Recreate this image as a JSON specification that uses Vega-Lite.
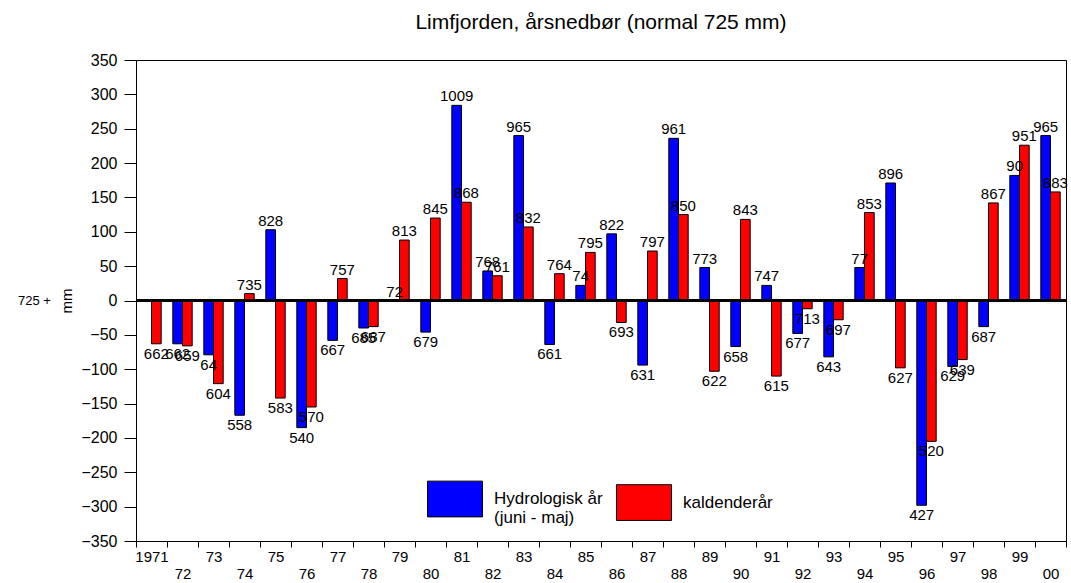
{
  "$schema": "https://vega.github.io/schema/vega-lite/v6.json",
  "width": 930,
  "height": 481,
  "autosize": "none",
  "padding": {"left": 136, "top": 60, "right": 5, "bottom": 42},
  "background": "white",
  "config": {
    "font": "Liberation Sans",
    "view": {"stroke": "black", "strokeWidth": 1},
    "axis": {"domainColor": "black", "tickColor": "black", "labelColor": "black", "titleColor": "black", "grid": false}
  },
  "title": {"text": "Limfjorden, årsnedbør (normal 725 mm)", "fontSize": 21, "fontWeight": "normal", "anchor": "middle", "offset": 19, "color": "black"},
  "data": {
    "values": [
      {"year": "1971", "serie": "kaldenderår", "v": -63, "label": "662"},
      {"year": "1972", "serie": "Hydrologisk år", "v": -63, "label": "662"},
      {"year": "1972", "serie": "kaldenderår", "v": -66, "label": "659"},
      {"year": "1973", "serie": "Hydrologisk år", "v": -79, "label": "64"},
      {"year": "1973", "serie": "kaldenderår", "v": -121, "label": "604"},
      {"year": "1974", "serie": "Hydrologisk år", "v": -167, "label": "558"},
      {"year": "1974", "serie": "kaldenderår", "v": 10, "label": "735"},
      {"year": "1975", "serie": "Hydrologisk år", "v": 103, "label": "828"},
      {"year": "1975", "serie": "kaldenderår", "v": -142, "label": "583"},
      {"year": "1976", "serie": "Hydrologisk år", "v": -185, "label": "540"},
      {"year": "1976", "serie": "kaldenderår", "v": -155, "label": "570"},
      {"year": "1977", "serie": "Hydrologisk år", "v": -58, "label": "667"},
      {"year": "1977", "serie": "kaldenderår", "v": 32, "label": "757"},
      {"year": "1978", "serie": "Hydrologisk år", "v": -40, "label": "685"},
      {"year": "1978", "serie": "kaldenderår", "v": -38, "label": "687"},
      {"year": "1979", "serie": "Hydrologisk år", "v": 0, "label": "72"},
      {"year": "1979", "serie": "kaldenderår", "v": 88, "label": "813"},
      {"year": "1980", "serie": "Hydrologisk år", "v": -46, "label": "679"},
      {"year": "1980", "serie": "kaldenderår", "v": 120, "label": "845"},
      {"year": "1981", "serie": "Hydrologisk år", "v": 284, "label": "1009"},
      {"year": "1981", "serie": "kaldenderår", "v": 143, "label": "868"},
      {"year": "1982", "serie": "Hydrologisk år", "v": 43, "label": "768"},
      {"year": "1982", "serie": "kaldenderår", "v": 36, "label": "761"},
      {"year": "1983", "serie": "Hydrologisk år", "v": 240, "label": "965"},
      {"year": "1983", "serie": "kaldenderår", "v": 107, "label": "832"},
      {"year": "1984", "serie": "Hydrologisk år", "v": -64, "label": "661"},
      {"year": "1984", "serie": "kaldenderår", "v": 39, "label": "764"},
      {"year": "1985", "serie": "Hydrologisk år", "v": 22, "label": "74"},
      {"year": "1985", "serie": "kaldenderår", "v": 70, "label": "795"},
      {"year": "1986", "serie": "Hydrologisk år", "v": 97, "label": "822"},
      {"year": "1986", "serie": "kaldenderår", "v": -32, "label": "693"},
      {"year": "1987", "serie": "Hydrologisk år", "v": -94, "label": "631"},
      {"year": "1987", "serie": "kaldenderår", "v": 72, "label": "797"},
      {"year": "1988", "serie": "Hydrologisk år", "v": 236, "label": "961"},
      {"year": "1988", "serie": "kaldenderår", "v": 125, "label": "850"},
      {"year": "1989", "serie": "Hydrologisk år", "v": 48, "label": "773"},
      {"year": "1989", "serie": "kaldenderår", "v": -103, "label": "622"},
      {"year": "1990", "serie": "Hydrologisk år", "v": -67, "label": "658"},
      {"year": "1990", "serie": "kaldenderår", "v": 118, "label": "843"},
      {"year": "1991", "serie": "Hydrologisk år", "v": 22, "label": "747"},
      {"year": "1991", "serie": "kaldenderår", "v": -110, "label": "615"},
      {"year": "1992", "serie": "Hydrologisk år", "v": -48, "label": "677"},
      {"year": "1992", "serie": "kaldenderår", "v": -12, "label": "713"},
      {"year": "1993", "serie": "Hydrologisk år", "v": -82, "label": "643"},
      {"year": "1993", "serie": "kaldenderår", "v": -28, "label": "697"},
      {"year": "1994", "serie": "Hydrologisk år", "v": 48, "label": "77"},
      {"year": "1994", "serie": "kaldenderår", "v": 128, "label": "853"},
      {"year": "1995", "serie": "Hydrologisk år", "v": 171, "label": "896"},
      {"year": "1995", "serie": "kaldenderår", "v": -98, "label": "627"},
      {"year": "1996", "serie": "Hydrologisk år", "v": -298, "label": "427"},
      {"year": "1996", "serie": "kaldenderår", "v": -205, "label": "520"},
      {"year": "1997", "serie": "Hydrologisk år", "v": -96, "label": "629"},
      {"year": "1997", "serie": "kaldenderår", "v": -86, "label": "639"},
      {"year": "1998", "serie": "Hydrologisk år", "v": -38, "label": "687"},
      {"year": "1998", "serie": "kaldenderår", "v": 142, "label": "867"},
      {"year": "1999", "serie": "Hydrologisk år", "v": 182, "label": "90"},
      {"year": "1999", "serie": "kaldenderår", "v": 226, "label": "951"},
      {"year": "2000", "serie": "Hydrologisk år", "v": 240, "label": "965"},
      {"year": "2000", "serie": "kaldenderår", "v": 158, "label": "883"}
    ]
  },
  "layer": [
    {
      "mark": {"type": "bar", "stroke": "black", "strokeWidth": 1},
      "encoding": {
        "x": {
          "field": "year", "type": "ordinal",
          "scale": {"paddingInner": 0, "paddingOuter": 0},
          "axis": {
            "title": null, "labelAngle": 0, "labelOverlap": false, "tickBand": "extent",
            "tickSize": 6, "labelFontSize": 15, "labelPadding": 2, "labelBaseline": "top", "labelLineHeight": 17,
            "labelExpr": "datum.value == null ? '' : (datum.value == '1971' ? '1971' : (toNumber(datum.value) % 2 == 0 ? ['', substring(datum.value, 2)] : substring(datum.value, 2)))"
          }
        },
        "xOffset": {"field": "serie", "type": "nominal", "scale": {"domain": ["Hydrologisk år", "kaldenderår"], "paddingInner": 0, "paddingOuter": 0.6}},
        "y": {
          "field": "v", "type": "quantitative",
          "scale": {"domain": [-350, 350], "nice": false, "zero": false},
          "axis": {
            "orient": "left",
            "values": [-350, -300, -250, -200, -150, -100, -50, 0, 50, 100, 150, 200, 250, 300, 350],
            "tickSize": 12, "labelPadding": 7, "labelFontSize": 16,
            "title": "mm", "titleFontSize": 15, "titleFontWeight": "normal", "titlePadding": 6
          }
        },
        "color": {
          "field": "serie", "type": "nominal",
          "scale": {"domain": ["Hydrologisk år", "kaldenderår"], "range": ["#0000ff", "#ff0000"]},
          "legend": {
            "orient": "none", "legendX": 291, "legendY": 411, "direction": "horizontal", "title": null,
            "symbolType": "M-1,-0.65L1,-0.65L1,0.65L-1,0.65Z", "symbolSize": 3025,
            "symbolStrokeColor": "black", "symbolStrokeWidth": 1, "symbolOpacity": 1,
            "labelFontSize": 17, "labelOffset": 11, "columnPadding": 11, "labelColor": "black",
            "labelLimit": 300, "labelBaseline": "alphabetic", "labelLineHeight": 15,
            "labelExpr": "datum.label == 'Hydrologisk år' ? ['Hydrologisk år', '\u00a0\u00a0\u00a0\u00a0(juni - maj)'] : datum.label",
            "encode": {"labels": {"update": {"dy": {"value": 5}}}}
          }
        }
      }
    },
    {
      "transform": [{"filter": "datum.v >= 0"}],
      "mark": {"type": "text", "baseline": "alphabetic", "dy": -4, "fontSize": 15, "color": "black"},
      "encoding": {
        "x": {"field": "year", "type": "ordinal"},
        "xOffset": {"field": "serie", "type": "nominal"},
        "y": {"field": "v", "type": "quantitative", "scale": {"domain": [-350, 350], "nice": false, "zero": false}, "axis": null},
        "text": {"field": "label"}
      }
    },
    {
      "transform": [{"filter": "datum.v < 0"}],
      "mark": {"type": "text", "baseline": "top", "dy": 3, "fontSize": 15, "color": "black"},
      "encoding": {
        "x": {"field": "year", "type": "ordinal"},
        "xOffset": {"field": "serie", "type": "nominal"},
        "y": {"field": "v", "type": "quantitative", "scale": {"domain": [-350, 350], "nice": false, "zero": false}, "axis": null},
        "text": {"field": "label"}
      }
    },
    {
      "mark": {"type": "rule", "strokeWidth": 3, "color": "black"},
      "encoding": {
        "y": {
          "datum": 0, "type": "quantitative",
          "scale": {"domain": [-350, 350], "nice": false, "zero": false},
          "axis": {
            "orient": "left", "labels": false, "ticks": false, "domain": false,
            "title": "725 +", "titleAngle": 0, "titleFontSize": 13, "titleFontWeight": "normal",
            "titleBaseline": "middle", "titleAlign": "center", "titleY": 240.5, "titleX": -102
          }
        }
      }
    }
  ],
  "resolve": {"scale": {"y": "independent"}}
}
